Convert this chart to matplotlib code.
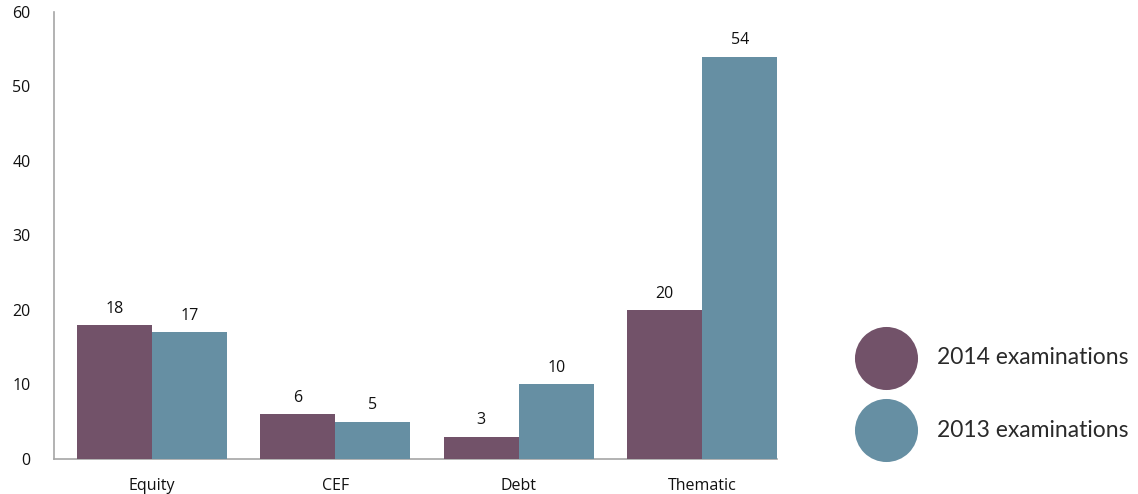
import numpy as np
import matplotlib.pyplot as plt

categories = ["Equity", "CEF", "Debt", "Thematic"]
exams_2014 = [18, 6, 3, 20]
exams_2013 = [17, 5, 10, 54]
series_names = ["2014 examinations", "2013 examinations"]

purple = "#725269"
teal = "#668fa3"

fig = plt.figure(figsize=(11.38, 4.94), dpi=100)
ax = fig.add_axes([0.0475, 0.0709, 0.6355, 0.9048])

x = np.arange(len(categories))
w = 0.409

b1 = ax.bar(x - w / 2, exams_2014, w, color=purple, zorder=3)
b2 = ax.bar(x + w / 2, exams_2013, w, color=teal, zorder=3)

for bars in (b1, b2):
    for r in bars:
        ax.annotate(str(int(r.get_height())),
                    (r.get_x() + r.get_width() / 2, r.get_height()),
                    xytext=(0, 6), textcoords="offset points",
                    ha="center", va="bottom", fontsize=11.5,
                    family="Open Sans", color="#111111")

ax.set_xlim(-0.5345, 3.409)
ax.set_ylim(0, 60)
ax.set_yticks(range(0, 61, 10))
ax.set_xticks(x)
ax.set_xticklabels(categories)
ax.tick_params(axis="both", length=0, labelsize=11.5, colors="#111111")
ax.tick_params(axis="y", pad=17)
ax.tick_params(axis="x", pad=14)
for lab in ax.get_xticklabels() + ax.get_yticklabels():
    lab.set_family("Open Sans")

for s in ("top", "right"):
    ax.spines[s].set_visible(False)
for s in ("left", "bottom"):
    ax.spines[s].set_color("#a6a6a6")
    ax.spines[s].set_linewidth(1.2)

# legend drawn as big circles, in pixel coords of the figure
lax = fig.add_axes([0, 0, 1, 1])
lax.set_xlim(0, 1138)
lax.set_ylim(494, 0)
lax.axis("off")
for yy, col, name in zip([357.5, 430], [purple, teal], series_names):
    lax.scatter([886.5], [yy], s=2061, color=col, linewidths=0)
    lax.text(937, yy, name, va="center", ha="left", fontsize=16.5,
             family="Lato", color="#2a2a2a")

fig.savefig("out.png", dpi=100)
